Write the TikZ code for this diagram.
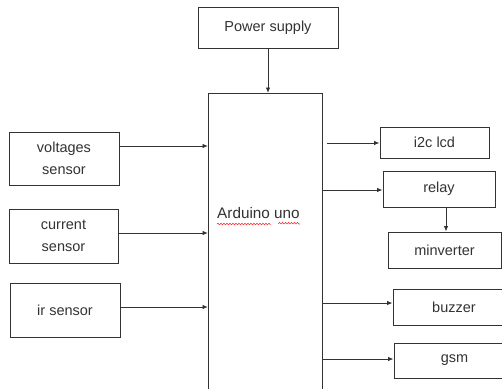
\documentclass[tikz,border=0pt]{standalone}
\usepackage{fontspec}
\setmainfont{Liberation Sans}
\usetikzlibrary{arrows.meta,decorations.pathmorphing}
\begin{document}
\begin{tikzpicture}[x=1pt,y=-1pt,
  box/.style={draw=black!80,line width=0.95pt,inner sep=0pt,text=black!80,
    font=\fontsize{14.5}{22}\selectfont,align=center},
  arr/.style={draw=black!80,line width=0.95pt,-{Latex[length=5.5pt,width=4.5pt]}}]
\useasboundingbox (0,0) rectangle (502,388);
\clip (0,0) rectangle (502,388);
\fill[white] (0,0) rectangle (502,388);
\node[box,minimum width=140,minimum height=41] (power) at (268,27.5) {Power supply};
\node[box,minimum width=114,minimum height=327,anchor=north west] (ard) at (208,93) {};
\node[text=black!80,font=\fontsize{15.3}{18}\selectfont,inner sep=0pt] (ardt) at (258.5,213.5) {Arduino uno};
\draw[red!80,line width=0.6pt,decorate,decoration={snake,amplitude=0.8pt,segment length=3pt}]
  (217,224) -- (270,224) (278,224) -- (300,224);
\node[box,minimum width=110,minimum height=53] (volt) at (64,158.5) {voltages\\sensor};
\node[box,minimum width=109,minimum height=54] (curr) at (63.5,236) {current\\sensor};
\node[box,minimum width=110,minimum height=54] (ir) at (65,310) {ir sensor};
\node[box,minimum width=109,minimum height=31] (lcd) at (434.5,142.5) {i2c lcd};
\node[box,minimum width=112,minimum height=36] (relay) at (439,189) {relay};
\node[box,minimum width=113,minimum height=36] (minv) at (444.5,250) {minverter};
\node[box,minimum width=122,minimum height=36] (buzz) at (454,307) {buzzer};
\node[box,minimum width=121,minimum height=35] (gsm) at (454.5,360.5) {gsm};
\draw[arr] (power.south) -- (ard.north -| power.south);
\draw[arr] (volt.east |- 0,146) -- (ard.west |- 0,146);
\draw[arr] (curr.east |- 0,233) -- (ard.west |- 0,233);
\draw[arr] (ir.east |- 0,307) -- (ard.west |- 0,307);
\draw[arr] ([xshift=4pt]ard.east |- 0,143) -- (lcd.west |- 0,143);
\draw[arr] (ard.east |- 0,190) -- (relay.west |- 0,190);
\draw[arr] (relay.south -| 446,0) -- (minv.north -| 446,0);
\draw[arr] (ard.east |- 0,303) -- (buzz.west |- 0,303);
\draw[arr] (ard.east |- 0,359) -- (gsm.west |- 0,359);
\end{tikzpicture}
\end{document}
